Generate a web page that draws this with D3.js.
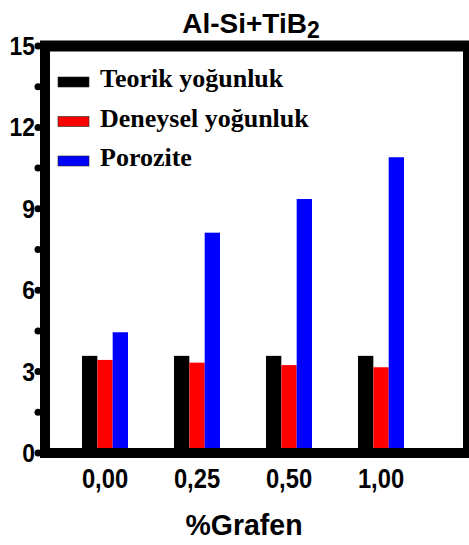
<!DOCTYPE html>
<html>
<head>
<meta charset="utf-8">
<script src="https://cdn.jsdelivr.net/npm/d3@7"></script>
<style>
  body { margin: 0; background: #fff; }
  svg { display: block; }
</style>
</head>
<body>
<svg width="469" height="545"></svg>
<script>
var categories = ["0,00", "0,25", "0,50", "1,00"];
var seriesNames = ["Teorik yoğunluk", "Deneysel yoğunluk", "Porozite"];
var teorik = [3.58, 3.58, 3.58, 3.58];
var deneysel = [3.43, 3.33, 3.24, 3.16];
var porozite = [4.45, 8.12, 9.36, 10.9];
var yTicks = [0, 3, 6, 9, 12, 15];
var yMinorTicks = [1.5, 4.5, 7.5, 10.5, 13.5];
var colors = ["#000000", "#ff0000", "#0000ff"];

var svg = d3.select("svg");
var plotLeft = 45, plotRight = 466, plotTop = 46, plotBottom = 453;

var y = d3.scaleLinear().domain([0, 15]).range([plotBottom, plotTop]);
var x0 = d3.scaleBand().domain(categories).range([36, 450])
    .paddingInner(0.5).paddingOuter(0.5);
var x1 = d3.scaleBand().domain(d3.range(3)).range([0, x0.bandwidth()]);

var rows = categories.map(function(c, i) {
  return { cat: c, vals: [teorik[i], deneysel[i], porozite[i]] };
});

// bars
var g = svg.append("g");
g.selectAll("g.grp")
  .data(rows)
  .enter().append("g")
    .attr("class", "grp")
    .attr("transform", function(d) { return "translate(" + x0(d.cat) + ",0)"; })
  .selectAll("rect")
  .data(function(d) { return d.vals; })
  .enter().append("rect")
    .attr("x", function(d, i) { return x1(i); })
    .attr("y", function(d) { return y(d); })
    .attr("width", x1.bandwidth())
    .attr("height", function(d) { return plotBottom - y(d); })
    .attr("fill", function(d, i) { return colors[i]; });

// frame
svg.append("line").attr("x1", plotLeft - 5).attr("x2", plotRight + 4).attr("y1", plotTop).attr("y2", plotTop)
  .attr("stroke", "#000").attr("stroke-width", 11);
svg.append("line").attr("x1", plotRight).attr("x2", plotRight).attr("y1", plotTop).attr("y2", plotBottom)
  .attr("stroke", "#000").attr("stroke-width", 6);
svg.append("line").attr("x1", plotLeft).attr("x2", plotLeft).attr("y1", plotTop - 5).attr("y2", plotBottom + 5)
  .attr("stroke", "#000").attr("stroke-width", 10);
svg.append("line").attr("x1", plotLeft - 5).attr("x2", plotRight + 3).attr("y1", plotBottom).attr("y2", plotBottom)
  .attr("stroke", "#000").attr("stroke-width", 10);

// y ticks as dots
svg.selectAll("circle.tick")
  .data(yTicks.concat(yMinorTicks))
  .enter().append("circle")
    .attr("class", "tick")
    .attr("cx", 38)
    .attr("cy", function(d) { return y(d); })
    .attr("r", 3.5)
    .attr("fill", "#000");

svg.selectAll("text.ylab")
  .data(yTicks)
  .enter().append("text")
    .attr("class", "ylab")
    .attr("text-anchor", "end")
    .attr("transform", function(d) { return "translate(35," + (y(d) + 9) + ") scale(0.88,1)"; })
    .style("font-family", "'Liberation Sans', Arial, sans-serif")
    .style("font-weight", "bold")
    .style("font-size", "26px")
    .text(function(d) { return d; });

// x labels
svg.selectAll("text.xlab")
  .data(categories)
  .enter().append("text")
    .attr("class", "xlab")
    .attr("text-anchor", "middle")
    .attr("transform", function(d) { return "translate(" + (x0(d) + x0.bandwidth() / 2) + ",488) scale(0.88,1)"; })
    .style("font-family", "'Liberation Sans', Arial, sans-serif")
    .style("font-weight", "bold")
    .style("font-size", "27px")
    .text(function(d) { return d; });

// axis title
svg.append("text")
  .attr("text-anchor", "middle")
  .attr("transform", "translate(244,535) scale(0.95,1)")
  .style("font-family", "'Liberation Sans', Arial, sans-serif")
  .style("font-weight", "bold")
  .style("font-size", "30px")
  .text("%Grafen");

// title
var title = svg.append("text")
  .attr("text-anchor", "middle")
  .attr("transform", "translate(251,33)")
  .style("font-family", "'Liberation Sans', Arial, sans-serif")
  .style("font-weight", "bold")
  .style("font-size", "28px");
title.append("tspan").text("Al-Si+TiB");
title.append("tspan").attr("dy", 5).style("font-size", "23px").text("2");

// legend
var legend = svg.append("g").attr("transform", "translate(58,77)");
var item = legend.selectAll("g")
  .data(seriesNames)
  .enter().append("g")
    .attr("transform", function(d, i) { return "translate(0," + i * 39.5 + ")"; });
item.append("rect")
  .attr("width", 31).attr("height", 10)
  .attr("fill", function(d, i) { return colors[i]; })
  .attr("stroke", "#222").attr("stroke-width", 0.6);
item.append("text")
  .attr("x", 42).attr("y", 10)
  .style("font-family", "'Liberation Serif', 'Times New Roman', serif")
  .style("font-weight", "bold")
  .style("font-size", "26px")
  .text(function(d) { return d; });
</script>
</body>
</html>
